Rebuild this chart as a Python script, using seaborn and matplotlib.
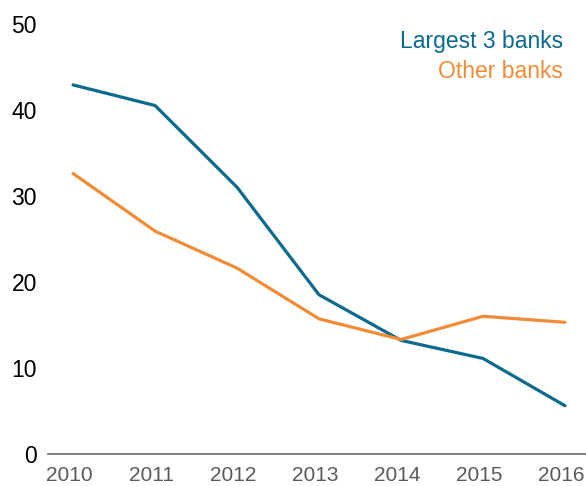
import numpy as np
import pandas as pd
import matplotlib
matplotlib.use("Agg")
import matplotlib.pyplot as plt
import matplotlib.transforms as mtransforms
import seaborn as sns

years = [2010, 2011, 2012, 2013, 2014, 2015, 2016]
largest3 = [42.9, 40.5, 31.0, 18.5, 13.2, 11.1, 5.6]
other = [32.6, 25.9, 21.6, 15.7, 13.3, 16.0, 15.3]
series_names = ["Largest 3 banks", "Other banks"]
colors = ["#0b6a8e", "#f28b35"]
yticks = [0, 10, 20, 30, 40, 50]

df = pd.DataFrame({
    "year": years * 2,
    "value": largest3 + other,
    "series": [series_names[0]] * len(years) + [series_names[1]] * len(years),
})

sns.set_style("white")
plt.rcParams["font.family"] = ["Liberation Sans", "DejaVu Sans"]

fig = plt.figure(figsize=(5.86, 4.86), dpi=100)
ax = fig.add_axes([0.082, 0.066, 0.918, 0.885])

sns.lineplot(data=df, x="year", y="value", hue="series",
             palette=dict(zip(series_names, colors)), linewidth=2.3,
             legend=False, ax=ax)

ax.set_xlim(2009.695, 2016.256)
ax.set_ylim(0, 50)
ax.set_yticks(yticks)
ax.set_xticks(years)
ax.set_xlabel("")
ax.set_ylabel("")
for s in ["top", "right", "left"]:
    ax.spines[s].set_visible(False)
ax.spines["bottom"].set_color("#6b6b6b")
ax.spines["bottom"].set_linewidth(1.2)
ax.tick_params(axis="both", length=0)
ax.tick_params(axis="x", colors="#5a5a5a", labelsize=15, pad=9)
ax.tick_params(axis="y", colors="black", labelsize=16.5, pad=8)

# nudge year labels a little left, like the original
shift = mtransforms.ScaledTranslation(-4 / 100, 0, fig.dpi_scale_trans)
for lbl in ax.get_xticklabels():
    lbl.set_color("#5a5a5a")
    lbl.set_transform(lbl.get_transform() + shift)

ax.text(0.957, 0.958, series_names[0], color=colors[0], fontsize=16.5,
        ha="right", va="center", transform=ax.transAxes)
ax.text(0.957, 0.888, series_names[1], color=colors[1], fontsize=16.5,
        ha="right", va="center", transform=ax.transAxes)

fig.savefig("out.png", dpi=100)
